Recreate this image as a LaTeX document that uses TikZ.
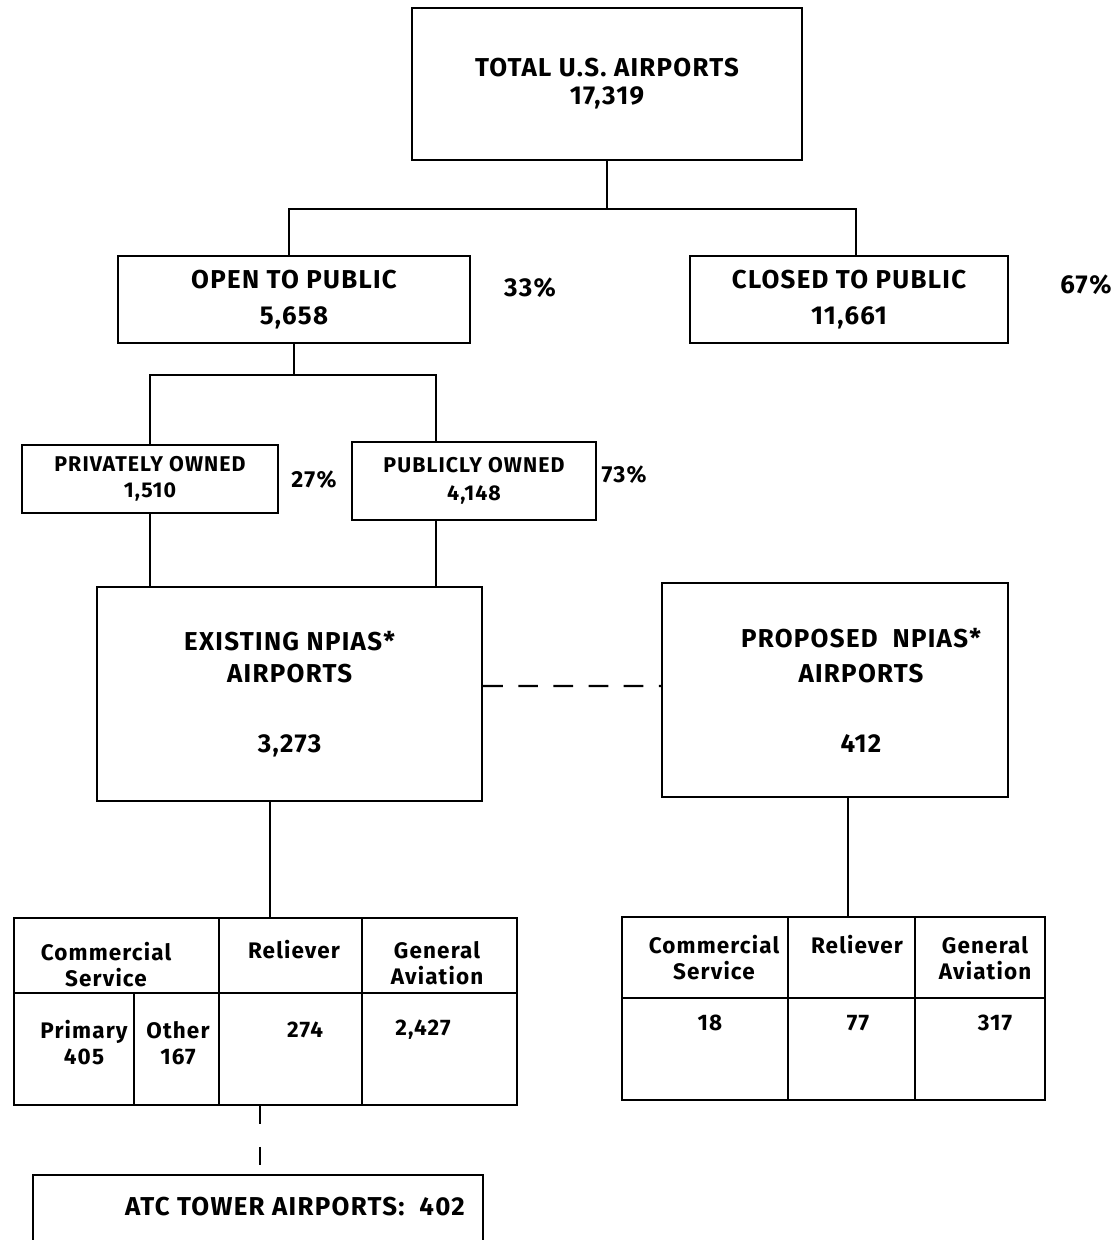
\documentclass[tikz,border=0pt]{standalone}
\usepackage{fontspec}
\setmainfont{Fira Sans}[LetterSpace=5]

\tikzset{
  box/.style={draw, align=center, inner sep=0pt},
  bigtxt/.style={font=\fontsize{18.4}{20}\selectfont\bfseries},
  midtxt/.style={font=\fontsize{15.2}{18.5}\selectfont\bfseries},
  pcttxt/.style={font=\fontsize{16.5}{18.5}\selectfont\bfseries},
  tabtxt/.style={font=\fontsize{16}{18.5}\selectfont\bfseries, align=center},
}

\begin{document}
\begin{tikzpicture}[line width=1.5pt]
            \useasboundingbox (0,0) rectangle (27.975,-31);

            % Total airports
            \node[box, bigtxt, minimum width=9.75cm, minimum height=3.8cm] (total) at (15.175,-2.1) {TOTAL U.S. AIRPORTS\\ 17,319};

            % Open and closed to public
            \node[box, bigtxt, minimum width=8.8cm, minimum height=2.175cm] (open) at (7.35,-7.49) {OPEN TO PUBLIC\\[5.6pt] 5,658};
            \node[box, bigtxt, minimum width=7.95cm, minimum height=2.175cm] (closed) at (21.225,-7.49) {CLOSED TO PUBLIC\\[5.6pt] 11,661};
            \node[bigtxt] (pct33) at (13.25,-7.2) {33\%};
            \node[bigtxt] (pct67) at (27.15,-7.125) {67\%};

            \draw (total.south) -- ++(0,-1.2) coordinate (totalsplit);
            \draw ([xshift=-0.125cm]open.north) |- (totalsplit) -| ([xshift=0.175cm]closed.north);

            % Privately and publicly owned
            \node[box, midtxt, minimum width=6.4cm, minimum height=1.7cm] (private) at (3.75,-11.975) {PRIVATELY OWNED\\ 1,510};
            \node[box, midtxt, minimum width=6.1cm, minimum height=1.95cm] (public) at (11.85,-12.025) {PUBLICLY OWNED\\[1.5pt] 4,148};
            \node[pcttxt] (pct27) at (7.85,-12.0) {27\%};
            \node[pcttxt] (pct73) at (15.6,-11.875) {73\%};

            \draw (open.south) -- ++(0,-0.775) coordinate (opensplit);
            \draw (private.north) |- (opensplit) -| ([xshift=-0.95cm]public.north);

            % NPIAS airports
            \node[box, bigtxt, minimum width=9.625cm, minimum height=5.35cm] (existing) at (7.24,-17.35) {EXISTING NPIAS*\\[2.8pt] AIRPORTS\\[29.8pt] 3,273};
            \node[box, bigtxt, minimum width=8.65cm, minimum height=5.35cm] (proposed) at (20.875,-17.25) {\hspace*{1.3cm}PROPOSED\ \ NPIAS*\\[4.9pt] \hspace*{1.3cm}AIRPORTS\\[29.8pt] \hspace*{1.3cm}412};

            \draw (private.south) -- (private.south |- existing.north);
            \draw ([xshift=-0.95cm]public.south) -- ([xshift=-0.95cm]public.south |- existing.north);
            \draw[dash pattern=on 14pt off 11pt] ([yshift=0.2cm]existing.east) -- ([yshift=0.1cm]proposed.west);

            % Existing NPIAS table
            \node[box, minimum width=12.575cm, minimum height=4.675cm] (lefttab) at (6.6375,-25.2875) {};
            \draw (0.35,-24.825) -- (12.925,-24.825);
            \draw (5.475,-22.95) -- (5.475,-27.625);
            \draw (9.05,-22.95) -- (9.05,-27.625);
            \draw (3.35,-24.825) -- (3.35,-27.625);
            \node[tabtxt] (lcomm) at (2.65,-24.125) {Commercial\\ Service};
            \node[tabtxt] (lrel) at (7.35,-23.75) {Reliever};
            \node[tabtxt] (lgen) at (10.925,-24.075) {General\\ Aviation};
            \node[tabtxt] (lprim) at (2.1,-26.075) {Primary\\ 405};
            \node[tabtxt] (lother) at (4.45,-26.075) {Other\\ 167};
            \node[tabtxt] (lrelnum) at (7.625,-25.75) {274};
            \node[tabtxt] (lgennum) at (10.575,-25.75) {2,427};

            \draw ([xshift=-0.49cm]existing.south) -- ([xshift=-0.49cm]existing.south |- lefttab.north);

            % Proposed NPIAS table
            \node[box, minimum width=10.575cm, minimum height=4.575cm] (righttab) at (20.8375,-25.2125) {};
            \draw (15.55,-24.95) -- (26.125,-24.95);
            \draw (19.7,-22.925) -- (19.7,-27.5);
            \draw (22.875,-22.925) -- (22.875,-27.5);
            \node[tabtxt] (rcomm) at (17.85,-23.95) {Commercial\\ Service};
            \node[tabtxt] (rrel) at (21.425,-23.625) {Reliever};
            \node[tabtxt] (rgen) at (24.625,-23.95) {General\\ Aviation};
            \node[tabtxt] (rcommnum) at (17.75,-25.575) {18};
            \node[tabtxt] (rrelnum) at (21.45,-25.575) {77};
            \node[tabtxt] (rgennum) at (24.875,-25.575) {317};

            \draw ([xshift=0.325cm]proposed.south) -- ([xshift=0.325cm]proposed.south |- righttab.north);

            % ATC tower airports
            \node[box, minimum width=11.25cm, minimum height=2.6cm] (atc) at (6.45,-30.675) {};
            \node[bigtxt] (atclabel) at (7.375,-30.175) {ATC TOWER AIRPORTS:\ \ 402};

            \draw[dash pattern=on 13pt off 16pt] ([xshift=-0.1375cm]lefttab.south) -- ([xshift=-0.1375cm]lefttab.south |- atc.north);

\end{tikzpicture}
\end{document}
